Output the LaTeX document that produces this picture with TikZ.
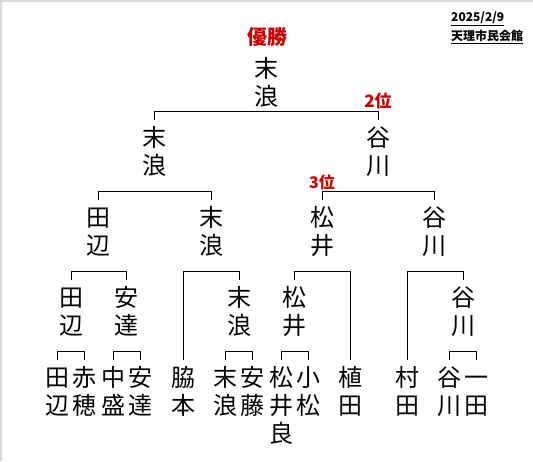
\documentclass[tikz,border=0pt]{standalone}
\usepackage{fontspec}
\usepackage{xcolor}
\usepackage{tikz}
\newfontfamily\cjk{Noto Sans CJK JP}
\definecolor{rankred}{RGB}{204,0,0}
\definecolor{sheetgray}{RGB}{217,217,217}
\tikzstyle{namenode}=[anchor=north, align=center, inner xsep=0pt, inner ysep=5pt, font=\cjk\fontsize{24}{28}\selectfont]
\tikzstyle{ranklabel}=[text=rankred, inner sep=0pt]
\tikzstyle{infolabel}=[anchor=west, inner sep=0pt, font=\cjk\bfseries\fontsize{12}{14}\selectfont]
\tikzstyle{bracketline}=[black, line width=0.8pt]
\newcommand{\pname}[2]{\rule{0pt}{21pt}#1\\#2\rule[-3pt]{0pt}{3pt}}

\begin{document}
\begin{tikzpicture}[x=1pt, y=-1pt]
    \useasboundingbox (0,0) rectangle (533,461);
    \draw[sheetgray, line width=1.5pt] (1,461) -- (1,1) -- (533,1);

    % header
    \node[ranklabel, font=\cjk\bfseries\fontsize{20}{24}\selectfont] (champ) at (267,37) {優勝};
    \node[infolabel] (date) at (451,19) {\underline{2025/2/9}};
    \node[infolabel] (venue) at (451,37) {\underline{天理市民会館}};

    % winner and final
    \node[namenode] (win) at (266,51) {\pname{末}{浪}};
    \node[namenode] (fa) at (154,120) {\pname{末}{浪}};
    \node[namenode] (fb) at (378,120) {\pname{谷}{川}};

    % semi finals
    \node[namenode] (sa) at (98,200) {\pname{田}{辺}};
    \node[namenode] (sb) at (211,200) {\pname{末}{浪}};
    \node[namenode] (sc) at (322,200) {\pname{松}{井}};
    \node[namenode] (sd) at (434,200) {\pname{谷}{川}};

    % quarter finals
    \node[namenode] (qa) at (71,280) {\pname{田}{辺}};
    \node[namenode] (qb) at (126,280) {\pname{安}{達}};
    \node[namenode] (qc) at (239,280) {\pname{末}{浪}};
    \node[namenode] (qd) at (294,280) {\pname{松}{井}};
    \node[namenode] (qe) at (463,280) {\pname{谷}{川}};

    % first round
    \node[namenode] (tanabe) at (57,360) {\pname{田}{辺}};
    \node[namenode] (akaho) at (84,360) {\pname{赤}{穂}};
    \node[namenode] (nakamori) at (113,360) {\pname{中}{盛}};
    \node[namenode] (adachi) at (140,360) {\pname{安}{達}};
    \node[namenode] (wakimoto) at (183,360) {\pname{脇}{本}};
    \node[namenode] (suenami) at (225,360) {\pname{末}{浪}};
    \node[namenode] (ando) at (252,360) {\pname{安}{藤}};
    \node[namenode] (matsui) at (281,360) {\pname{松}{井\\良}};
    \node[namenode] (komatsu) at (308,360) {\pname{小}{松}};
    \node[namenode] (ueda) at (350,360) {\pname{植}{田}};
    \node[namenode] (murata) at (407,360) {\pname{村}{田}};
    \node[namenode] (tanikawa) at (449,360) {\pname{谷}{川}};
    \node[namenode] (ichida) at (476,360) {\pname{一}{田}};

    % brackets (lower end first)
    \foreach \lo/\hi in {fa/fb, sa/sb, sc/sd, qa/qb, wakimoto/qc, ueda/qd,
        murata/qe, tanabe/akaho, nakamori/adachi, suenami/ando,
        matsui/komatsu, tanikawa/ichida}
      \draw[bracketline] (\lo.north) |- ([yshift=9pt]\hi.north) -- (\hi.north);

    % places
    \node[ranklabel, font=\cjk\bfseries\fontsize{17}{20}\selectfont] (second) at (378,101) {2位};
    \node[ranklabel, font=\cjk\bfseries\fontsize{16}{19}\selectfont] (third) at (322,182) {3位};
\end{tikzpicture}
\end{document}
